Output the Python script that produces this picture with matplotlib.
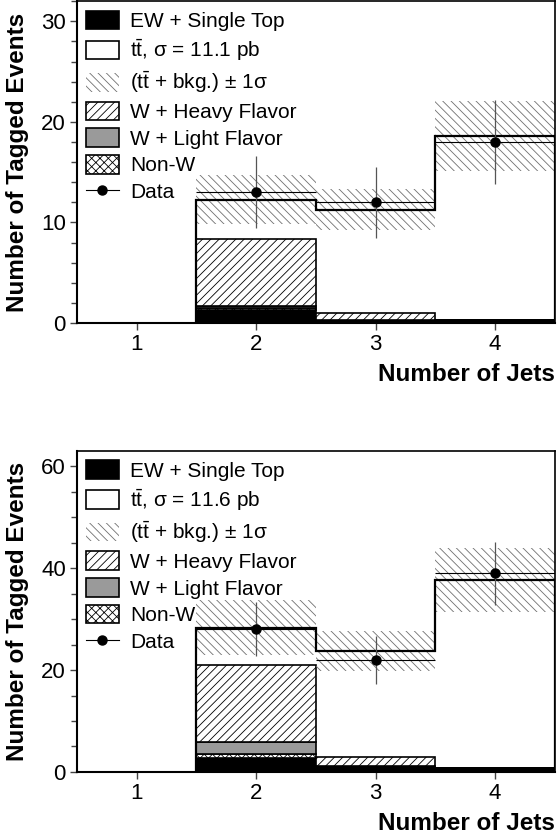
import numpy as np
import matplotlib
matplotlib.use("Agg")
import matplotlib.pyplot as plt
from matplotlib.patches import Patch
from matplotlib.lines import Line2D
from matplotlib.ticker import MultipleLocator

plt.rcParams['font.family'] = ['Liberation Sans', 'DejaVu Sans']
plt.rcParams['mathtext.fontset'] = 'custom'
plt.rcParams['mathtext.rm'] = 'Liberation Sans'
plt.rcParams['mathtext.it'] = 'Liberation Sans:italic'
plt.rcParams['hatch.linewidth'] = 0.6

JETS = [2, 3, 4]
XSEC = [11.1, 11.6]

# top panel: sigma = 11.1 pb
EW_TOP = [1.30, 0.25, 0.30]
NONW_TOP = [0.15, 0.05, 0.0]
WLF_TOP = [0.25, 0.05, 0.0]
WHF_TOP = [6.63, 0.65, 0.0]
TTBAR_TOP = [3.94, 10.28, 18.28]
UNC_TOP = [2.4, 2.0, 3.5]
DATA_TOP = [13, 12, 18]
DATA_ERR_TOP = [3.6, 3.5, 4.2]

# bottom panel: sigma = 11.6 pb
EW_BOT = [2.8, 0.85, 0.7]
NONW_BOT = [0.7, 0.1, 0.0]
WLF_BOT = [2.4, 0.3, 0.0]
WHF_BOT = [15.0, 1.75, 0.0]
TTBAR_BOT = [7.43, 20.73, 37.0]
UNC_BOT = [5.4, 3.9, 6.3]
DATA_BOT = [28, 22, 39]
DATA_ERR_BOT = [5.3, 4.7, 6.2]

BAND_COLOR = '#707070'
LF_COLOR = '#9a9a9a'
HF_HATCH = '////'
BAND_HATCH = '\\\\\\\\'
NONW_HATCH = 'xxxx'


def draw_panel(ax, ew, nonw, wlf, whf, ttbar, unc, data, data_err, xsec, ymax, major, minor):
    x = np.array(JETS, dtype=float)
    bottom = np.zeros(len(x))
    layers = [
        (ew, dict(facecolor='black')),
        (nonw, dict(facecolor='white', hatch=NONW_HATCH)),
        (wlf, dict(facecolor=LF_COLOR)),
        (whf, dict(facecolor='white', hatch=HF_HATCH)),
    ]
    for vals, style in layers:
        vals = np.array(vals)
        ax.bar(x, vals, width=1.0, bottom=bottom, edgecolor='black', linewidth=1.2,
               zorder=2, **style)
        bottom = bottom + vals
    total = bottom + np.array(ttbar)
    unc = np.array(unc)

    # uncertainty band on the total prediction
    ax.bar(x, 2 * unc, width=1.0, bottom=total - unc, facecolor='none',
           edgecolor=BAND_COLOR, linewidth=0, hatch=BAND_HATCH, zorder=2.5)
    edges = np.append(x - 0.5, x[-1] + 0.5)
    ax.stairs(total, edges, baseline=0, color='black', linewidth=1.6, zorder=3)

    ax.errorbar(x, data, yerr=data_err, fmt='none', ecolor='#555555', elinewidth=0.9, zorder=4)
    ax.errorbar(x, data, xerr=0.5, fmt='o', color='black', ecolor='black', elinewidth=0.8,
                markersize=6.5, zorder=5)

    ax.set_xlim(0.5, 4.5)
    ax.set_ylim(0, ymax)
    ax.set_xticks([1, 2, 3, 4])
    ax.yaxis.set_major_locator(MultipleLocator(major))
    ax.yaxis.set_minor_locator(MultipleLocator(minor))
    ax.tick_params(axis='both', which='major', direction='out', length=5, width=1,
                   labelsize=16, color='#444444', pad=3)
    ax.tick_params(axis='y', which='minor', direction='out', length=4, width=1, color='#444444')
    for side in ['left', 'bottom']:
        ax.spines[side].set_linewidth(1.5)
    for side in ['top', 'right']:
        ax.spines[side].set_linewidth(1.2)

    ax.set_xlabel('Number of Jets', fontsize=17.5, fontweight='bold', loc='right')
    ax.xaxis.set_label_coords(1.0, -0.125)
    ax.set_ylabel('Number of Tagged Events', fontsize=17.5, fontweight='bold')
    ax.yaxis.set_label_coords(-0.1, 0.5)

    handles = [
        Patch(facecolor='black', edgecolor='black', linewidth=1.2),
        Patch(facecolor='white', edgecolor='black', linewidth=1.2),
        Patch(facecolor='none', edgecolor=BAND_COLOR, linewidth=0, hatch=BAND_HATCH),
        Patch(facecolor='white', edgecolor='black', linewidth=1.2, hatch=HF_HATCH),
        Patch(facecolor=LF_COLOR, edgecolor='black', linewidth=1.2),
        Patch(facecolor='white', edgecolor='black', linewidth=1.2, hatch=NONW_HATCH),
        Line2D([], [], color='black', linewidth=0.8, marker='o', markersize=6.5),
    ]
    labels = [
        'EW + Single Top',
        f't$\\bar{{\\rm t}}$, σ = {xsec} pb',
        '(t$\\bar{\\rm t}$ + bkg.) ± 1σ',
        'W + Heavy Flavor',
        'W + Light Flavor',
        'Non-W',
        'Data',
    ]
    ax.legend(handles, labels, loc='upper left', frameon=False, fontsize=15,
              handlelength=1.55, handleheight=1.0, handletextpad=0.55,
              labelspacing=0.3, borderaxespad=0.25, borderpad=0.2)


fig = plt.figure(figsize=(5.57, 8.36), dpi=100)
ax_top = fig.add_axes([0.138, 0.6136, 0.858, 0.385])
ax_bot = fig.add_axes([0.138, 0.0766, 0.858, 0.384])

draw_panel(ax_top, EW_TOP, NONW_TOP, WLF_TOP, WHF_TOP, TTBAR_TOP, UNC_TOP,
           DATA_TOP, DATA_ERR_TOP, XSEC[0], 32, 10, 2)
draw_panel(ax_bot, EW_BOT, NONW_BOT, WLF_BOT, WHF_BOT, TTBAR_BOT, UNC_BOT,
           DATA_BOT, DATA_ERR_BOT, XSEC[1], 63, 20, 5)

fig.savefig('out.png', dpi=100)
